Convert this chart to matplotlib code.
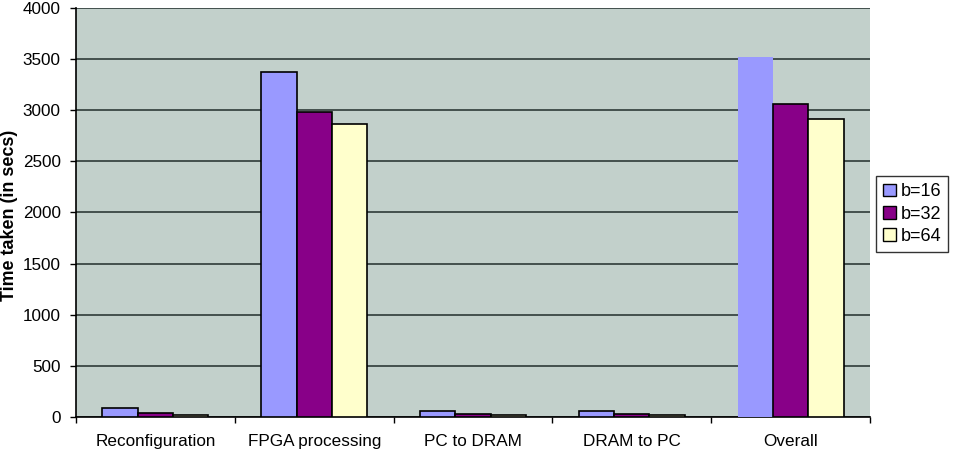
import matplotlib
matplotlib.use("Agg")
import matplotlib.pyplot as plt
import numpy as np
from matplotlib.patches import Patch

categories = ["Reconfiguration", "FPGA processing", "PC to DRAM", "DRAM to PC", "Overall"]
series_names = ["b=16", "b=32", "b=64"]
b16 = [85, 3370, 55, 55, 3520]
b32 = [40, 2980, 30, 30, 3065]
b64 = [20, 2870, 15, 15, 2910]
yticks = [0, 500, 1000, 1500, 2000, 2500, 3000, 3500, 4000]

colors = ["#9999FF", "#880088", "#FFFFCC"]
bg = "#C2D0CB"

plt.rcParams['font.family'] = ['Liberation Sans', 'DejaVu Sans']

fig = plt.figure(figsize=(9.56, 4.58), dpi=100)
ax = fig.add_axes([76/956, 41/458, (870-76)/956, (417-8)/458])
ax.set_facecolor(bg)

x = np.arange(len(categories))
w = 1/4.5
data = [b16, b32, b64]
for i, (vals, c) in enumerate(zip(data, colors)):
    for j, v in enumerate(vals):
        lw = 1.2
        if i == 0 and j == len(vals) - 1:
            lw = 0
        ax.bar(x[j] + (i - 1) * w, v, width=w, color=c, edgecolor='black', linewidth=lw, zorder=3)

ax.set_xlim(-0.5, len(categories) - 0.5)
ax.set_ylim(0, 4000)
ax.set_yticks(yticks)
ax.set_yticklabels([str(t) for t in yticks], fontsize=12.3)
ax.yaxis.grid(True, color="#2E3A38", linewidth=1.2, zorder=1)
ax.set_axisbelow(True)

ax.set_xticks(np.arange(-0.5, len(categories), 1.0))
ax.set_xticklabels([])
ax.set_xticks(x, minor=True)
ax.set_xticklabels(categories, minor=True, fontsize=12.3)
ax.tick_params(axis='x', which='minor', length=0, pad=12.5)
ax.tick_params(axis='x', which='major', length=4, width=1, direction='out')
ax.tick_params(axis='y', length=4, width=1, direction='out', pad=7)

for s in ['top', 'right']:
    ax.spines[s].set_visible(False)
ax.spines['left'].set_linewidth(1.2)
ax.spines['bottom'].set_linewidth(1.2)

fig.text(1/956, 1 - 215/458, "Time taken (in secs)", rotation=90, fontsize=12.9,
         fontweight='bold', ha='left', va='center')

handles = [Patch(facecolor=c, edgecolor='black', linewidth=1) for c in colors]
leg = fig.legend(handles, series_names, loc='upper left', bbox_to_anchor=(876/956, 1 - 176/458),
                 fontsize=13, frameon=True, fancybox=False, edgecolor='black',
                 handlelength=0.7, handleheight=0.7, handletextpad=0.25, borderpad=0.4,
                 labelspacing=0.3, borderaxespad=0)
leg.get_frame().set_linewidth(1)

fig.savefig("out.png", dpi=100)
